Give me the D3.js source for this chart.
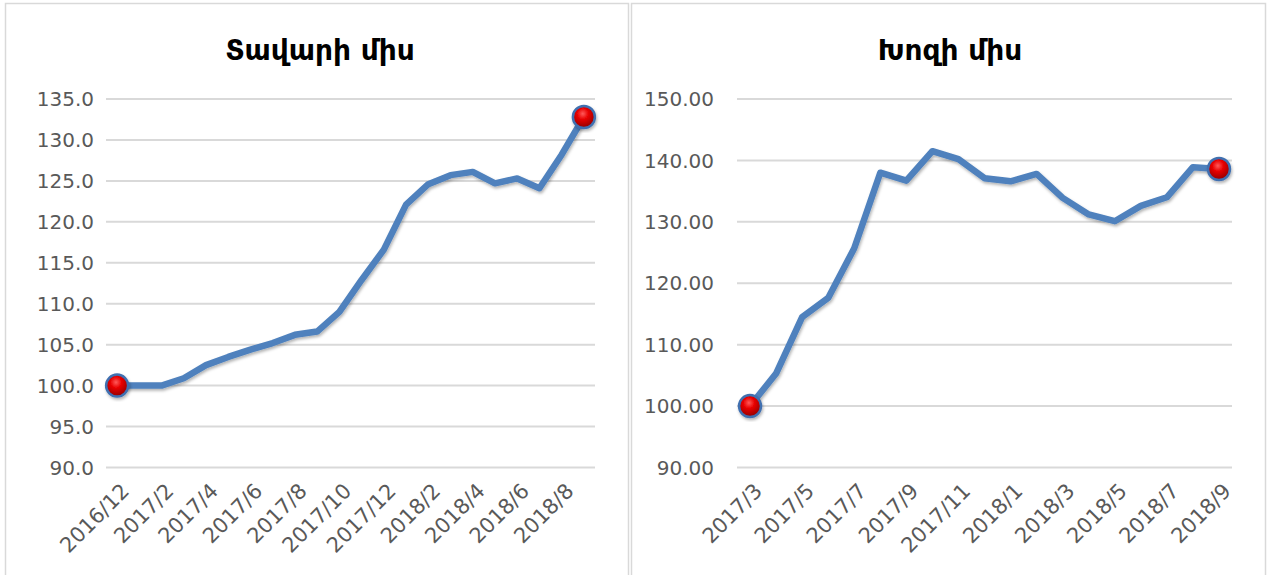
<!DOCTYPE html>
<html>
<head>
<meta charset="utf-8">
<script src="https://cdn.jsdelivr.net/npm/d3@7"></script>
<style>
  html, body { margin: 0; padding: 0; background: #fff; }
  svg { display: block; }
</style>
</head>
<body>
<div id="chart"></div>
<script>
// beef (left) - monthly index, 2016/12 = 100
const beefMonths = ['2016/12', '2017/1', '2017/2', '2017/3', '2017/4', '2017/5', '2017/6', '2017/7',
  '2017/8', '2017/9', '2017/10', '2017/11', '2017/12', '2018/1', '2018/2', '2018/3', '2018/4',
  '2018/5', '2018/6', '2018/7', '2018/8', '2018/9']
const beefValues = [100.0, 100.0, 100.0, 100.9, 102.5, 103.5, 104.4, 105.2, 106.2, 106.6, 109.0,
  112.9, 116.6, 122.1, 124.6, 125.7, 126.1, 124.7, 125.3, 124.1, 128.2, 132.8]
const beefTicks = [90, 95, 100, 105, 110, 115, 120, 125, 130, 135]

// pork (right) - monthly index, 2017/3 = 100
const porkMonths = ['2017/3', '2017/4', '2017/5', '2017/6', '2017/7', '2017/8', '2017/9', '2017/10',
  '2017/11', '2017/12', '2018/1', '2018/2', '2018/3', '2018/4', '2018/5', '2018/6', '2018/7',
  '2018/8', '2018/9']
const porkValues = [100.0, 105.3, 114.5, 117.6, 125.7, 138.0, 136.7, 141.5, 140.2, 137.1, 136.6,
  137.8, 133.9, 131.2, 130.1, 132.6, 134.0, 138.9, 138.6]
const porkTicks = [90, 100, 110, 120, 130, 140, 150]

const width = 1268
const height = 575
const fontFamily = '"DejaVu Sans", sans-serif'
const titleFont = '"DejaVu Sans", sans-serif'

const svg = d3.select('#chart').append('svg')
  .attr('width', width)
  .attr('height', height)

const defs = svg.append('defs')

const ball = defs.append('radialGradient')
  .attr('id', 'ball')
  .attr('cx', '45%').attr('cy', '35%').attr('r', '65%')
ball.append('stop').attr('offset', '0%').attr('stop-color', '#ff5a5a')
ball.append('stop').attr('offset', '40%').attr('stop-color', '#e80000')
ball.append('stop').attr('offset', '100%').attr('stop-color', '#900000')

const shadow = defs.append('filter')
  .attr('id', 'shadow')
  .attr('x', '-20%').attr('y', '-20%').attr('width', '140%').attr('height', '140%')
shadow.append('feDropShadow')
  .attr('dx', 1).attr('dy', 2).attr('stdDeviation', 1.5)
  .attr('flood-color', '#000').attr('flood-opacity', 0.3)

function drawPanel (opt) {
  const g = svg.append('g')

  // panel frame
  g.append('rect')
    .attr('x', opt.box[0] + 0.5)
    .attr('y', 3.5)
    .attr('width', opt.box[1] - opt.box[0])
    .attr('height', height + 10)
    .attr('fill', '#fff')
    .attr('stroke', '#d9d9d9')
    .attr('stroke-width', 1.5)

  g.append('text')
    .attr('x', opt.titleX)
    .attr('y', 60)
    .attr('text-anchor', 'middle')
    .style('font-family', titleFont)
    .style('font-weight', 'bold')
    .style('font-size', '28px')
    .attr('fill', '#000')
    .text(opt.title)

  const x = d3.scaleBand()
    .domain(opt.months)
    .range(opt.xRange)
    .padding(0)

  const y = d3.scaleLinear()
    .domain(d3.extent(opt.ticks))
    .range([467.5, 99])

  const cx = d => x(d) + x.bandwidth() / 2

  // gridlines
  g.selectAll('.grid')
    .data(opt.ticks)
    .enter()
    .append('line')
    .attr('x1', opt.xRange[0])
    .attr('x2', opt.xRange[1])
    .attr('y1', d => y(d))
    .attr('y2', d => y(d))
    .attr('stroke', '#d9d9d9')
    .attr('stroke-width', 2)

  // y labels
  g.selectAll('.ylab')
    .data(opt.ticks)
    .enter()
    .append('text')
    .attr('x', opt.yLabelX)
    .attr('y', d => y(d))
    .attr('dy', '0.36em')
    .attr('text-anchor', 'end')
    .style('font-family', fontFamily)
    .style('font-size', '20px')
    .attr('fill', '#595959')
    .text(d => d.toFixed(opt.decimals))

  // x labels, every second month
  const shown = opt.months.filter((d, i) => i % 2 === 0)
  g.selectAll('.xlab')
    .data(shown)
    .enter()
    .append('text')
    .attr('transform', d => 'translate(' + (cx(d) + 8) + ',' + 487 + ') rotate(-45)')
    .attr('dy', '0.36em')
    .attr('text-anchor', 'end')
    .style('font-family', fontFamily)
    .style('font-size', '21px')
    .attr('fill', '#595959')
    .text(d => d)

  const line = d3.line()
    .x((d, i) => cx(opt.months[i]))
    .y(d => y(d))

  g.append('path')
    .attr('d', line(opt.values))
    .attr('fill', 'none')
    .attr('stroke', '#4f81bd')
    .attr('stroke-width', 6.5)
    .attr('stroke-linejoin', 'round')
    .attr('filter', 'url(#shadow)')

  // red balls at first and last month
  const ends = [0, opt.values.length - 1]
  g.selectAll('.ball')
    .data(ends)
    .enter()
    .append('circle')
    .attr('cx', i => cx(opt.months[i]))
    .attr('cy', i => y(opt.values[i]))
    .attr('r', 11)
    .attr('fill', 'url(#ball)')
    .attr('stroke', '#3f6fb0')
    .attr('stroke-width', 2.5)
    .attr('filter', 'url(#shadow)')
}

drawPanel({
  box: [5, 628],
  title: 'Տավարի միս',
  titleX: 320,
  months: beefMonths,
  values: beefValues,
  ticks: beefTicks,
  decimals: 1,
  xRange: [106, 595],
  yLabelX: 94
})

drawPanel({
  box: [631, 1265],
  title: 'Խոզի միս',
  titleX: 950,
  months: porkMonths,
  values: porkValues,
  ticks: porkTicks,
  decimals: 2,
  xRange: [737, 1232],
  yLabelX: 714
})
</script>
</body>
</html>
